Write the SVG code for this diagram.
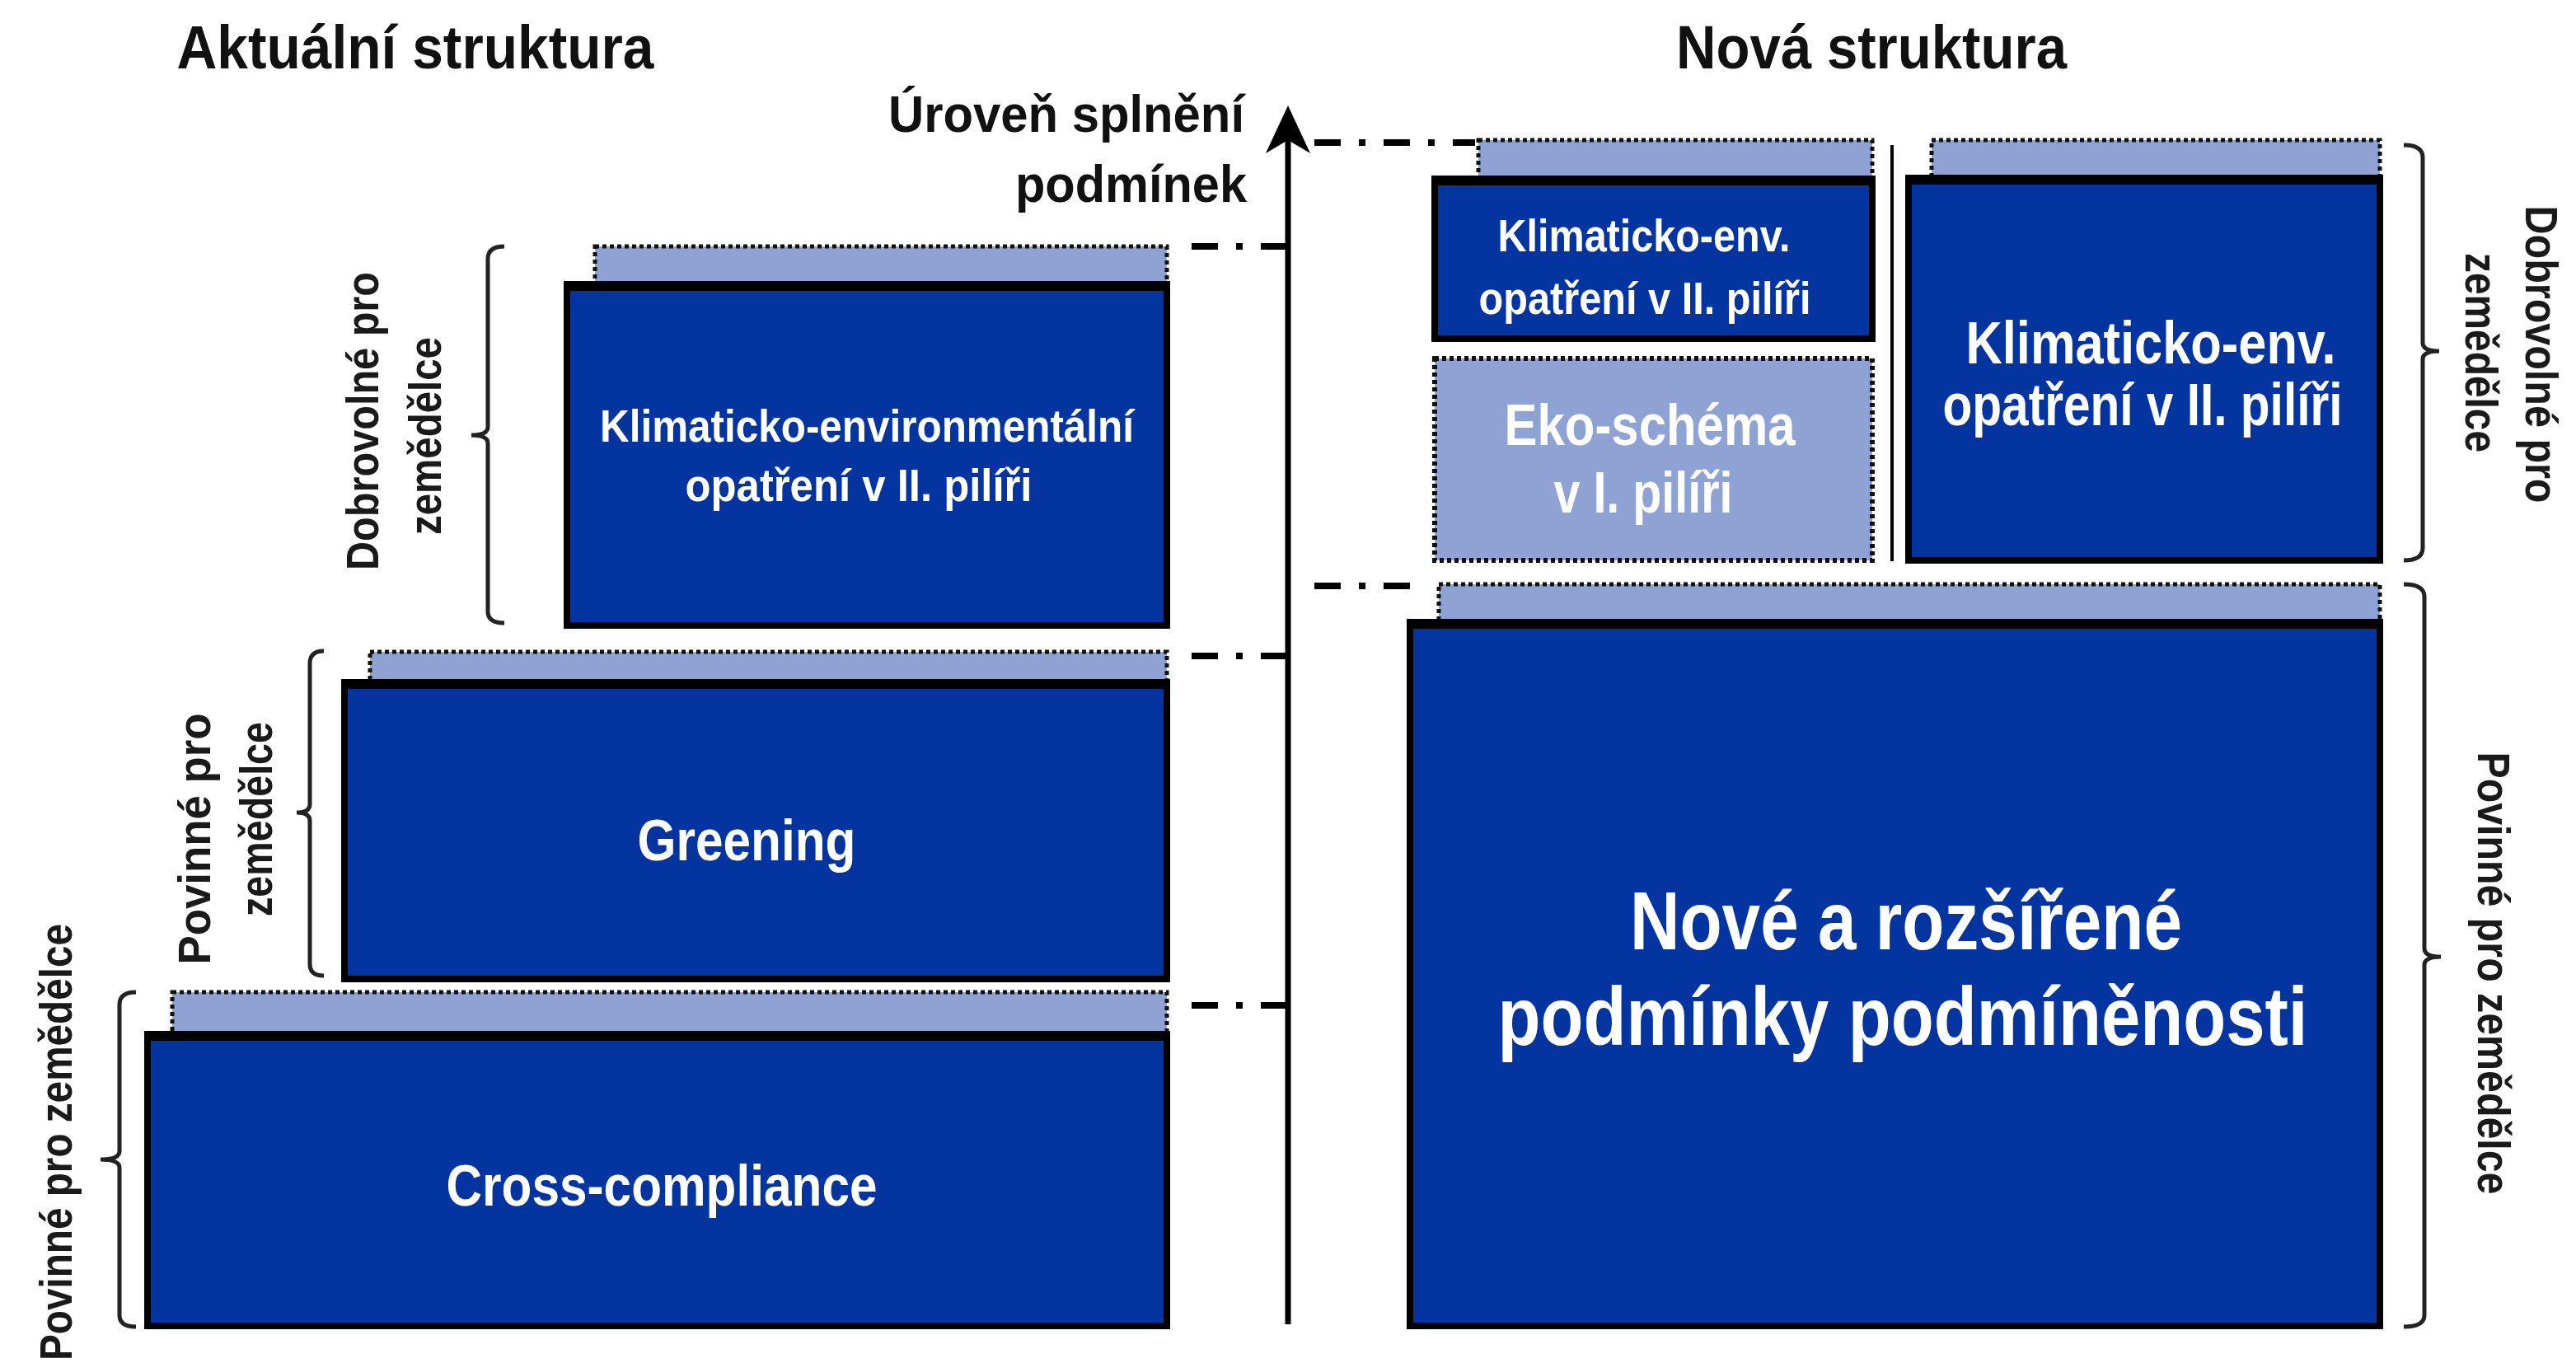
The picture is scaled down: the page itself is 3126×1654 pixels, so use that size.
<svg xmlns="http://www.w3.org/2000/svg" width="3126" height="1654" viewBox="0 0 3126 1654">
<style>
text{font-family:"Liberation Sans",Arial,sans-serif;font-weight:bold}
.title{font-size:74px;fill:#111}
.axislbl{font-size:63px;fill:#111;text-anchor:end}
.side{font-size:56px;fill:#1a1a1a;text-anchor:middle}
.bt{fill:#ffffff;text-anchor:middle}
.dark{fill:#0334A0;stroke:#000;stroke-width:8}
.topedge{stroke:#000;stroke-width:12}
.strip{fill:#8EA3D3;stroke:#111;stroke-width:5;stroke-dasharray:5 4}
.eko{fill:#8EA3D3;stroke:#111;stroke-width:6;stroke-dasharray:5 4}
.dd{stroke:#000;stroke-width:8;stroke-dasharray:32 22 8 22;fill:none}
.br{fill:none;stroke:#222;stroke-width:5}
</style>

<g id="titles">
<text class="title" x="504" y="83" text-anchor="middle" textLength="579" lengthAdjust="spacingAndGlyphs">Aktuální struktura</text>
<text class="title" x="2271" y="83" text-anchor="middle" textLength="474" lengthAdjust="spacingAndGlyphs">Nová struktura</text>
</g>

<g id="axis">
<line x1="1563" y1="1607" x2="1563" y2="150" stroke="#000" stroke-width="7"/>
<path d="M1563,128 L1590,186 L1563,170 L1536,186 Z" fill="#000"/>
<text class="axislbl" x="1510" y="160" textLength="432" lengthAdjust="spacingAndGlyphs">Úroveň splnění</text>
<text class="axislbl" x="1513" y="245" textLength="281" lengthAdjust="spacingAndGlyphs">podmínek</text>
</g>

<g id="connectors">
<line class="dd" x1="1562" y1="299" x2="1424" y2="299"/>
<line class="dd" x1="1562" y1="796" x2="1424" y2="796"/>
<line class="dd" x1="1562" y1="1220" x2="1424" y2="1220"/>
<line class="dd" x1="1595" y1="173" x2="1790" y2="173"/>
<line class="dd" x1="1595" y1="711" x2="1711" y2="711"/>
<line x1="2296" y1="176" x2="2296" y2="681" stroke="#000" stroke-width="4"/>
</g>

<g id="node-klim-left">
<rect class="strip" x="722" y="299" width="694" height="50"/>
<rect class="dark" x="688" y="345" width="728" height="414"/>
<line class="topedge" x1="684" y1="347" x2="1420" y2="347"/>
<text class="bt" font-size="56" x="1052" y="536" textLength="648" lengthAdjust="spacingAndGlyphs">Klimaticko-environmentální</text>
<text class="bt" font-size="56" x="1042" y="608" textLength="421" lengthAdjust="spacingAndGlyphs">opatření v II. pilíři</text>
</g>

<g id="node-greening">
<rect class="strip" x="449" y="791" width="967" height="40"/>
<rect class="dark" x="418" y="828" width="998" height="360"/>
<line class="topedge" x1="414" y1="830" x2="1420" y2="830"/>
<text class="bt" font-size="70" x="906" y="1044" textLength="265" lengthAdjust="spacingAndGlyphs">Greening</text>
</g>

<g id="node-cross">
<rect class="strip" x="209" y="1204" width="1207" height="54"/>
<rect class="dark" x="179" y="1255" width="1237" height="354"/>
<line class="topedge" x1="175" y1="1257" x2="1420" y2="1257"/>
<text class="bt" font-size="70" x="803" y="1463" textLength="523" lengthAdjust="spacingAndGlyphs">Cross-compliance</text>
</g>

<g id="node-klim-small">
<rect class="strip" x="1794" y="170" width="478" height="50"/>
<rect class="dark" x="1741" y="217" width="531" height="194"/>
<line class="topedge" x1="1737" y1="219" x2="2276" y2="219"/>
<text class="bt" font-size="56" x="1995" y="305" textLength="355" lengthAdjust="spacingAndGlyphs">Klimaticko-env.</text>
<text class="bt" font-size="56" x="1996" y="381" textLength="403" lengthAdjust="spacingAndGlyphs">opatření v II. pilíři</text>
</g>

<g id="node-eko">
<rect class="eko" x="1741" y="435" width="531" height="245"/>
<text class="bt" font-size="70" x="2002" y="540" textLength="353" lengthAdjust="spacingAndGlyphs">Eko-schéma</text>
<text class="bt" font-size="70" x="1994" y="622" textLength="217" lengthAdjust="spacingAndGlyphs">v I. pilíři</text>
</g>

<g id="node-klim-right">
<rect class="strip" x="2344" y="170" width="544" height="50"/>
<rect class="dark" x="2316" y="216" width="572" height="464"/>
<line class="topedge" x1="2312" y1="218" x2="2892" y2="218"/>
<text class="bt" font-size="72" x="2610" y="441" textLength="449" lengthAdjust="spacingAndGlyphs">Klimaticko-env.</text>
<text class="bt" font-size="72" x="2600" y="516" textLength="485" lengthAdjust="spacingAndGlyphs">opatření v II. pilíři</text>
</g>

<g id="node-nove">
<rect class="strip" x="1746" y="709" width="1142" height="50"/>
<rect class="dark" x="1711" y="755" width="1177" height="854"/>
<line class="topedge" x1="1707" y1="757" x2="2892" y2="757"/>
<text class="bt" font-size="100" x="2313" y="1152" textLength="670" lengthAdjust="spacingAndGlyphs">Nové a rozšířené</text>
<text class="bt" font-size="100" x="2309" y="1268" textLength="983" lengthAdjust="spacingAndGlyphs">podmínky podmíněnosti</text>
</g>

<g id="brackets">
<path class="br" d="M612,299 Q592,299 592,314 L592,518 Q592,528 572,528 Q592,528 592,538 L592,742 Q592,756 612,756"/>
<path class="br" d="M393,790 Q376,790 376,805 L376,976 Q376,986 360,986 Q376,986 376,996 L376,1170 Q376,1184 393,1184"/>
<path class="br" d="M165,1204 Q145,1204 145,1219 L145,1397 Q145,1407 122,1407 Q145,1407 145,1417 L145,1596 Q145,1610 165,1610"/>
<path class="br" d="M2917,176 Q2940,176 2940,191 L2940,416 Q2940,426 2960,426 Q2940,426 2940,436 L2940,665 Q2940,680 2917,680"/>
<path class="br" d="M2917,709 Q2942,709 2942,724 L2942,1151 Q2942,1161 2962,1161 Q2942,1161 2942,1171 L2942,1596 Q2942,1610 2917,1610"/>
</g>

<g id="side-labels">
<text class="side" transform="translate(459,511) rotate(-90)" textLength="362" lengthAdjust="spacingAndGlyphs">Dobrovolné pro</text>
<text class="side" transform="translate(535,529) rotate(-90)" textLength="240" lengthAdjust="spacingAndGlyphs">zemědělce</text>
<text class="side" transform="translate(255,1018) rotate(-90)" textLength="305" lengthAdjust="spacingAndGlyphs">Povinné pro</text>
<text class="side" transform="translate(330,994) rotate(-90)" textLength="236" lengthAdjust="spacingAndGlyphs">zemědělce</text>
<text class="side" transform="translate(87,1386) rotate(-90)" textLength="530" lengthAdjust="spacingAndGlyphs">Povinné pro zemědělce</text>
<text class="side" transform="translate(3065,430) rotate(90)" textLength="361" lengthAdjust="spacingAndGlyphs">Dobrovolné pro</text>
<text class="side" transform="translate(2992,428) rotate(90)" textLength="242" lengthAdjust="spacingAndGlyphs">zemědělce</text>
<text class="side" transform="translate(3007,1181) rotate(90)" textLength="537" lengthAdjust="spacingAndGlyphs">Povinné pro zemědělce</text>
</g>
</svg>
